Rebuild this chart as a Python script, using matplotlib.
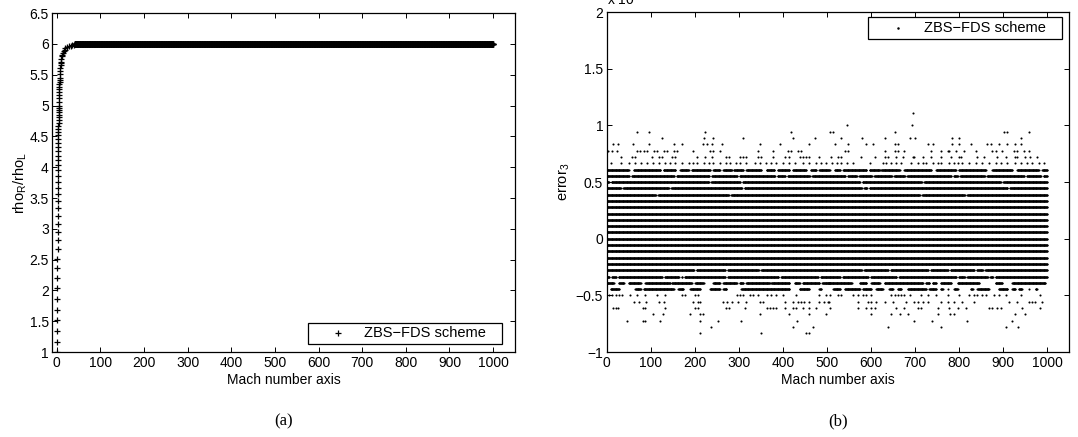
import numpy as np
import matplotlib
matplotlib.use('Agg')
import matplotlib.pyplot as plt
from matplotlib.patches import Rectangle
from matplotlib.ticker import FuncFormatter

plt.rcParams['font.family'] = ['Liberation Sans', 'DejaVu Sans']
plt.rcParams['mathtext.default'] = 'regular'
plt.rcParams['font.size'] = 10

# ---- (a) density ratio across the shock ----
mach_knee = [1.0, 1.1, 1.2, 1.3, 1.4, 1.5, 1.6, 1.7, 1.8, 1.9, 2.0,
             2.1, 2.2, 2.3, 2.4, 2.5, 2.6, 2.7, 2.8, 2.9, 3.0,
             3.1, 3.2, 3.3, 3.4, 3.5, 3.6, 3.7, 3.8, 3.9, 4.0,
             4.1, 4.2, 4.3, 4.4, 4.5, 4.6, 4.7, 4.8, 4.9, 5.0,
             5.2, 5.4, 5.6, 5.8, 6.0, 6.2, 6.4, 6.6, 6.8, 7.0,
             7.5, 8.0, 8.5, 9.0, 9.5, 10, 11, 12, 13, 14, 16, 18, 20,
             24, 28, 32, 36, 40]
rho_knee = [1.000, 1.169, 1.342, 1.516, 1.690, 1.862, 2.032, 2.198, 2.359, 2.516, 2.667,
            2.812, 2.951, 3.085, 3.212, 3.333, 3.449, 3.559, 3.664, 3.763, 3.857,
            3.947, 4.031, 4.112, 4.188, 4.261, 4.330, 4.395, 4.457, 4.516, 4.571,
            4.625, 4.675, 4.723, 4.768, 4.812, 4.853, 4.893, 4.930, 4.966, 5.000,
            5.064, 5.122, 5.175, 5.224, 5.268, 5.309, 5.347, 5.382, 5.415, 5.444,
            5.510, 5.565, 5.612, 5.651, 5.685, 5.714, 5.762, 5.799, 5.828, 5.851, 5.885, 5.909, 5.926,
            5.948, 5.962, 5.971, 5.977, 5.981]
mach_plateau = np.arange(41, 1000.1, 0.5)
rho_plateau = 6.0

# ---- (b) error_3, quantised levels (level index * level_step) ----
level_step = 1 / 18
mach_grid = np.arange(1, 1001, 1.0)

full_levels = [-4, -3, -2, -1, 0, 1, 2, 3, 4, 5, 6]

gapped_levels = {
    10: [54, 156, 236, 299, 385, 408, 464, 545, 571, 605, 650, 680, 785, 800, 861, 951, 989],
    9: [8, 235, 306, 578, 718, 898],
    8: [35, 144, 310, 582, 594, 913],
    7: [114, 280, 714, 816],
    -5: [201, 272, 348, 582, 642, 733, 778, 838, 857],
    -6: [9, 24, 129, 167, 174, 272, 393, 483, 533, 597, 661, 797, 816, 868, 880],
}

run_levels = {
    11: [(2, 50), (62, 122), (129, 156), (167, 186), (193, 235), (242, 257), (265, 284),
         (289, 310), (317, 351), (363, 381), (389, 415), (423, 453), (464, 476), (483, 506),
         (518, 530), (537, 590), (597, 620), (624, 665), (676, 737), (748, 793), (800, 861),
         (876, 921), (932, 981), (989, 1000)],
    -7: [(1, 16), (28, 39), (50, 77), (88, 144), (148, 193), (201, 220), (242, 257), (265, 295),
         (302, 310), (317, 370), (374, 415), (427, 438), (445, 483), (490, 506), (503, 556),
         (575, 590), (601, 620), (631, 718), (725, 733), (740, 748), (759, 782), (797, 846),
         (883, 898), (921, 996)],
    -8: [(9, 28), (65, 77), (84, 152), (163, 174), (190, 212), (235, 257), (265, 272), (306, 415),
         (438, 460), (483, 487), (515, 530), (541, 575), (582, 601), (612, 627), (642, 650),
         (661, 669), (684, 725), (733, 748), (759, 763), (774, 774), (789, 797), (827, 831),
         (842, 868), (891, 910), (921, 928), (936, 943), (958, 958), (974, 977)],
}

point_levels = {
    20: [695],
    18: [545, 694],
    17: [69, 95, 223, 419, 508, 515, 655, 902, 910, 960],
    16: [126, 220, 242, 310, 423, 473, 531, 579, 631, 688, 701, 784, 799, 942],
    15: [15, 26, 60, 95, 152, 171, 218, 227, 239, 261, 348, 393, 460, 518, 548, 590, 605, 654,
         661, 729, 740, 785, 800, 827, 864, 872, 891, 910, 928, 940],
    14: [2, 13, 24, 69, 75, 84, 92, 107, 114, 129, 137, 152, 160, 197, 235, 242, 257, 344, 378,
         412, 419, 434, 442, 541, 548, 631, 654, 661, 676, 737, 759, 774, 778, 793, 812, 838, 876,
         883, 898, 925, 932, 947, 958],
    13: [32, 58, 65, 103, 118, 126, 148, 154, 205, 223, 239, 272, 278, 302, 310, 317, 344, 351,
         378, 404, 415, 438, 445, 453, 460, 483, 509, 526, 533, 578, 609, 631, 639, 657, 673, 695,
         699, 718, 737, 759, 782, 799, 804, 842, 857, 887, 906, 928, 932, 951, 962, 977],
    12: [9, 32, 50, 65, 77, 92, 105, 118, 133, 144, 156, 171, 186, 197, 205, 220, 233, 242, 257,
         272, 280, 293, 302, 317, 336, 348, 362, 374, 385, 400, 415, 427, 445, 460, 475, 487, 498,
         511, 522, 533, 545, 560, 597, 627, 635, 646, 658, 669, 691, 706, 718, 725, 740, 752, 759,
         778, 789, 797, 808, 823, 838, 853, 868, 883, 895, 910, 928, 940, 955, 966, 981, 992],
    -9: [5, 13, 20, 28, 35, 54, 69, 88, 114, 133, 171, 178, 201, 208, 295, 302, 310, 325, 332,
         344, 363, 374, 385, 400, 430, 483, 498, 507, 526, 533, 560, 571, 582, 590, 601, 646, 654,
         661, 669, 676, 688, 714, 729, 748, 774, 800, 823, 834, 842, 853, 861, 880, 891, 906, 940, 985],
    -10: [63, 73, 90, 118, 129, 197, 208, 212, 263, 274, 284, 299, 317, 348, 355, 406, 423, 434,
          442, 449, 460, 483, 494, 502, 505, 571, 594, 601, 612, 631, 650, 680, 699, 706, 718, 729,
          759, 774, 789, 808, 834, 913, 932, 958, 966, 973, 989],
    -11: [15, 20, 26, 83, 88, 133, 201, 207, 272, 278, 314, 363, 370, 378, 385, 404, 423, 430, 445,
          460, 475, 507, 571, 590, 601, 609, 658, 676, 706, 714, 752, 778, 797, 816, 868, 876, 887,
          895, 943, 985],
    -12: [105, 128, 190, 212, 218, 348, 415, 460, 498, 601, 646, 665, 684, 752, 779, 789, 927, 951],
    -13: [45, 83, 88, 120, 212, 253, 306, 432, 699, 739, 819, 921],
    -14: [238, 423, 468, 639, 759, 906, 934],
    -15: [212, 351, 453, 459],
}

legend_label = 'ZBS\u2212FDS scheme'


def fmt(v, pos):
    return f'{v:g}'.replace('-', '\u2212')


def style_axes(ax):
    ax.tick_params(direction='in', top=True, right=True, length=3.6, width=0.7,
                   labelsize=10, pad=3)
    ax.tick_params(axis='y', pad=2.5)
    for sp in ax.spines.values():
        sp.set_linewidth(0.9)
    ax.xaxis.set_major_formatter(FuncFormatter(fmt))
    ax.yaxis.set_major_formatter(FuncFormatter(fmt))


def box_legend(ax, x0, y0, x1, y1, xm, xt, marker, ms, mew):
    ax.add_patch(Rectangle((x0, y0), x1 - x0, y1 - y0, transform=ax.transAxes,
                           facecolor='white', edgecolor='black', lw=0.9, zorder=5))
    yc = (y0 + y1) / 2
    ax.plot([xm], [yc], linestyle='none', marker=marker, ms=ms, mew=mew, color='black',
            transform=ax.transAxes, zorder=6, clip_on=False)
    ax.text(xt, yc, legend_label, transform=ax.transAxes, va='center', ha='left',
            fontsize=10.5, zorder=6)


fig = plt.figure(figsize=(10.78, 4.37), dpi=100)

# (a)
ax1 = fig.add_axes([0.0485, 0.1943, 0.4292, 0.7757])
ax1.plot(mach_knee, rho_knee, linestyle='none', marker='+', ms=4.8, mew=0.9, color='black')
ax1.plot(mach_plateau, np.full(len(mach_plateau), rho_plateau), linestyle='none',
         marker='+', ms=4.8, mew=1.0, color='black')
ax1.set_xlim(-10, 1050)
ax1.set_ylim(1, 6.5)
ax1.set_xticks(np.arange(0, 1001, 100))
ax1.set_yticks(np.arange(1, 6.51, 0.5))
style_axes(ax1)
ax1.set_xlabel('Mach number axis', fontsize=10, labelpad=2)
ax1.set_ylabel('rho$_R$/rho$_L$', fontsize=10.5)
ax1.yaxis.set_label_coords(-0.05, 0.5)
box_legend(ax1, 0.5526, 0.0236, 0.972, 0.0864, 0.6175, 0.6736, '+', 4.8, 0.9)

# (b)
ax2 = fig.add_axes([0.5628, 0.1943, 0.4289, 0.7780])
xs_all, ys_all = [], []
for k in full_levels:
    xs_all.append(mach_grid)
    ys_all.append(np.full(len(mach_grid), k * level_step))
for k, gaps in gapped_levels.items():
    keep = np.ones(len(mach_grid), dtype=bool)
    for g in gaps:
        keep &= np.abs(mach_grid - g) > 2.5
    xs_all.append(mach_grid[keep])
    ys_all.append(np.full(keep.sum(), k * level_step))
for k, runs in run_levels.items():
    xr = np.concatenate([np.arange(a, b + 1, 1.0) for a, b in runs])
    xs_all.append(xr)
    ys_all.append(np.full(len(xr), k * level_step))
for k, pts in point_levels.items():
    xs_all.append(np.array(pts, dtype=float))
    ys_all.append(np.full(len(pts), k * level_step))
ax2.plot(np.concatenate(xs_all), np.concatenate(ys_all), linestyle='none', marker='.',
         ms=3.0, mew=0, color='black')
ax2.set_xlim(0, 1050)
ax2.set_ylim(-1, 2)
ax2.set_xticks(np.arange(0, 1001, 100))
ax2.set_yticks(np.arange(-1, 2.01, 0.5))
style_axes(ax2)
ax2.set_xlabel('Mach number axis', fontsize=10, labelpad=2)
ax2.set_ylabel('error$_3$', fontsize=10.5)
ax2.yaxis.set_label_coords(-0.075, 0.5)
box_legend(ax2, 0.565, 0.9206, 0.985, 0.985, 0.630, 0.686, '.', 3.6, 0)
fig.text(0.5628, 0.9886, 'x 10$^{-14}$', fontsize=10, ha='left', va='baseline')

fig.text(0.2631, 0.036, '(a)', family=['Liberation Serif', 'DejaVu Serif'], fontsize=12,
         ha='center', va='center')
fig.text(0.7773, 0.036, '(b)', family=['Liberation Serif', 'DejaVu Serif'], fontsize=12,
         ha='center', va='center')

fig.savefig('out.png', dpi=100)
